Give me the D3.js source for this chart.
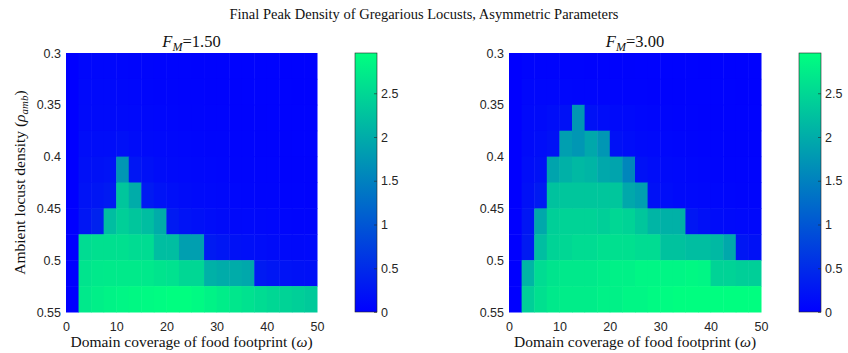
<!DOCTYPE html>
<html>
<head>
<meta charset="utf-8">
<script src="https://cdn.jsdelivr.net/npm/d3@7"></script>
<style>
  body { margin: 0; background: #fff; }
  svg { display: block; }
</style>
</head>
<body>
<svg id="chart" width="848" height="353"></svg>
<script>
// food footprint coverage (cell centres) and ambient density (cell centres)
var omega = [1.25, 3.75, 6.25, 8.75, 11.25, 13.75, 16.25, 18.75, 21.25, 23.75,
             26.25, 28.75, 31.25, 33.75, 36.25, 38.75, 41.25, 43.75, 46.25, 48.75];
var rho = [0.3125, 0.3375, 0.3625, 0.3875, 0.4125, 0.4375, 0.4625, 0.4875, 0.5125, 0.5375];

var xTicks = [0, 10, 20, 30, 40, 50];
var yTicks = [0.3, 0.35, 0.4, 0.45, 0.5, 0.55];
var yTickLabels = ["0.3", "0.35", "0.4", "0.45", "0.5", "0.55"];
var cbTicks = [0, 0.5, 1, 1.5, 2, 2.5];
var panelNames = ["1.50", "3.00"];

// final peak density, rows top (rho=0.3) to bottom (rho=0.55)
var densityF150 = [
  [0, .08, .08, .08, .07, .06, .06, .05, .05, .05, .04, .04, .04, .03, .03, .03, .03, .02, .02, .02],
  [0, .10, .10, .10, .09, .08, .07, .06, .06, .05, .05, .04, .04, .04, .03, .03, .03, .03, .02, .02],
  [0, .12, .12, .12, .12, .10, .09, .08, .07, .06, .06, .05, .05, .04, .04, .04, .03, .03, .03, .03],
  [0, .15, .15, .15, .18, .14, .12, .10, .09, .08, .07, .06, .06, .05, .05, .04, .04, .04, .03, .03],
  [0, .18, .20, .22, 1.75, .25, .18, .14, .12, .10, .09, .08, .07, .06, .06, .05, .05, .04, .04, .04],
  [0, .22, .25, .30, 2.3, 2.0, .30, .22, .17, .14, .12, .10, .09, .08, .07, .06, .06, .05, .05, .04],
  [0, .25, .40, 2.2, 2.4, 2.3, 2.2, 2.0, .30, .22, .18, .15, .13, .11, .10, .09, .08, .07, .06, .06],
  [0, 2.55, 2.6, 2.6, 2.6, 2.55, 2.55, 2.2, 2.2, 1.85, 1.85, .30, .25, .20, .17, .15, .13, .12, .11, .10],
  [0, 2.65, 2.7, 2.72, 2.72, 2.72, 2.7, 2.65, 2.62, 2.5, 2.5, 2.05, 2.0, 2.0, 1.95, .30, .25, .22, .20, .18],
  [0, 2.7, 2.78, 2.82, 2.85, 2.88, 2.9, 2.92, 2.95, 2.95, 2.9, 2.82, 2.75, 2.68, 2.62, 2.55, 2.5, 2.45, 2.4, 2.35]
];

var densityF300 = [
  [0, .05, .05, .05, .05, .05, .04, .04, .04, .04, .03, .03, .03, .03, .03, .02, .02, .02, .02, .02],
  [0, .08, .08, .08, .08, .07, .07, .06, .06, .05, .05, .04, .04, .04, .03, .03, .03, .03, .02, .02],
  [0, .10, .12, .15, .20, 1.75, .20, .15, .12, .10, .08, .07, .06, .05, .05, .04, .04, .03, .03, .03],
  [0, .12, .15, .20, 1.85, 1.75, 1.95, 1.75, .20, .15, .12, .10, .08, .07, .06, .05, .05, .04, .04, .04],
  [0, .15, .20, 1.9, 2.05, 2.15, 2.1, 1.95, 1.9, 1.55, .20, .15, .12, .10, .08, .07, .06, .05, .05, .05],
  [0, .18, .30, 2.25, 2.3, 2.3, 2.3, 2.3, 2.3, 1.95, 1.85, .20, .15, .12, .10, .09, .08, .07, .06, .06],
  [0, .25, 1.95, 2.4, 2.45, 2.45, 2.45, 2.4, 2.5, 2.45, 2.3, 2.1, 2.05, 2.05, .25, .18, .14, .12, .10, .09],
  [0, .30, 2.2, 2.45, 2.5, 2.55, 2.55, 2.6, 2.6, 2.6, 2.55, 2.55, 2.25, 2.25, 2.2, 2.2, 2.15, 1.95, .25, .20],
  [0, 2.1, 2.55, 2.65, 2.7, 2.7, 2.7, 2.75, 2.8, 2.8, 2.85, 2.85, 2.85, 2.85, 2.88, 2.85, 2.45, 2.45, 2.4, 2.4],
  [0, 2.4, 2.6, 2.7, 2.75, 2.75, 2.75, 2.8, 2.8, 2.85, 2.85, 2.9, 2.92, 2.95, 2.95, 2.95, 2.95, 2.95, 2.95, 2.95]
];

var panels = [
  {name: panelNames[0], data: densityF150, left: 66, right: 317, cbLeft: 355},
  {name: panelNames[1], data: densityF300, left: 509, right: 761, cbLeft: 799}
];

var plotTop = 53, plotBottom = 312,
    cbWidth = 22,
    cMax = 2.96,
    halfW = 1.25, halfH = 0.0125,
    axisColor = "#262626",
    tickSize = 12.5,
    labelSize = 15.5,
    serif = "'Liberation Serif', 'Times New Roman', serif",
    sans = "'Liberation Sans', Arial, sans-serif";

var color = d3.scaleLinear().domain([0, cMax]).range(["#0000ff", "#00ff80"]);

var svg = d3.select("#chart");

svg.append("text")
   .attr("x", 424)
   .attr("y", 19)
   .attr("text-anchor", "middle")
   .attr("font-family", serif)
   .attr("font-size", 14.5)
   .attr("fill", "#111")
   .text("Final Peak Density of Gregarious Locusts, Asymmetric Parameters");

// colorbar gradient
var grad = svg.append("defs").append("linearGradient")
   .attr("id", "winter")
   .attr("x1", 0).attr("y1", 1).attr("x2", 0).attr("y2", 0);
grad.selectAll("stop").data([0, 1]).enter().append("stop")
   .attr("offset", function(d) { return d; })
   .attr("stop-color", function(d) { return color(d * cMax); });

panels.forEach(function(p, pi) {
  var x = d3.scaleLinear().domain([0, 50]).range([p.left, p.right]);
  var y = d3.scaleLinear().domain([0.3, 0.55]).range([plotTop, plotBottom]);

  var cells = [];
  p.data.forEach(function(row, r) {
    row.forEach(function(v, c) {
      cells.push({w: omega[c], r: rho[r], v: v});
    });
  });

  var g = svg.append("g");
  g.selectAll("rect").data(cells).enter().append("rect")
   .attr("x", function(d) { return x(d.w - halfW); })
   .attr("y", function(d) { return y(d.r - halfH); })
   .attr("width", function(d) { return x(d.w + halfW) - x(d.w - halfW) + 0.5; })
   .attr("height", function(d) { return y(d.r + halfH) - y(d.r - halfH) + 0.5; })
   .attr("fill", function(d) { return color(d.v); });

  // axes
  var yAxis = svg.append("g")
     .attr("transform", "translate(" + p.left + ",0)")
     .call(d3.axisLeft(y).tickValues(yTicks).tickSize(0).tickPadding(5)
       .tickFormat(function(d, i) { return yTickLabels[i]; }));
  var xAxis = svg.append("g")
     .attr("transform", "translate(0," + plotBottom + ")")
     .call(d3.axisBottom(x).tickValues(xTicks).tickSize(0).tickPadding(10));
  [xAxis, yAxis].forEach(function(a) {
    a.select(".domain").remove();
    a.selectAll("text").attr("font-family", sans).attr("font-size", tickSize).attr("fill", axisColor);
  });

  // panel title F_M = ...
  var t = svg.append("text")
     .attr("x", (p.left + p.right) / 2)
     .attr("y", 47)
     .attr("text-anchor", "middle")
     .attr("font-family", serif)
     .attr("font-size", 16.5)
     .attr("fill", "#111");
  t.append("tspan").attr("font-style", "italic").text("F");
  t.append("tspan").attr("font-style", "italic").attr("font-size", 12).attr("dy", 3.5).text("M");
  t.append("tspan").attr("dy", -3.5).text("=" + p.name);

  // x label
  var xl = svg.append("text")
     .attr("x", (p.left + p.right) / 2)
     .attr("y", 347)
     .attr("text-anchor", "middle")
     .attr("font-family", serif)
     .attr("font-size", labelSize)
     .attr("fill", "#111");
  xl.append("tspan").text("Domain coverage of food footprint (");
  xl.append("tspan").attr("font-style", "italic").text("ω");
  xl.append("tspan").text(")");

  // y label only on the left panel
  if (pi == 0) {
    var yl = svg.append("text")
       .attr("transform", "translate(25," + (plotTop + plotBottom) / 2 + ") rotate(-90)")
       .attr("text-anchor", "middle")
       .attr("font-family", serif)
       .attr("font-size", labelSize)
       .attr("fill", "#111");
    yl.append("tspan").text("Ambient locust density (");
    yl.append("tspan").attr("font-style", "italic").text("ρ");
    yl.append("tspan").attr("font-style", "italic").attr("font-size", 11).attr("dy", 3).text("amb");
    yl.append("tspan").attr("dy", -3).text(")");
  }

  // colorbar
  var cy = d3.scaleLinear().domain([0, cMax]).range([plotBottom, plotTop]);
  svg.append("rect")
     .attr("x", p.cbLeft).attr("y", plotTop)
     .attr("width", cbWidth).attr("height", plotBottom - plotTop)
     .attr("fill", "url(#winter)")
     .attr("stroke", axisColor)
     .attr("stroke-width", 0.6);
  var cAxis = svg.append("g")
     .attr("transform", "translate(" + (p.cbLeft + cbWidth) + ",0)")
     .call(d3.axisRight(cy).tickValues(cbTicks).tickSizeInner(-3).tickSizeOuter(0).tickPadding(4)
       .tickFormat(d3.format("")));
  cAxis.select(".domain").remove();
  cAxis.selectAll("line").attr("stroke", axisColor).attr("stroke-width", 0.6);
  cAxis.selectAll("text").attr("font-family", sans).attr("font-size", tickSize).attr("fill", axisColor);
});
</script>
</body>
</html>
